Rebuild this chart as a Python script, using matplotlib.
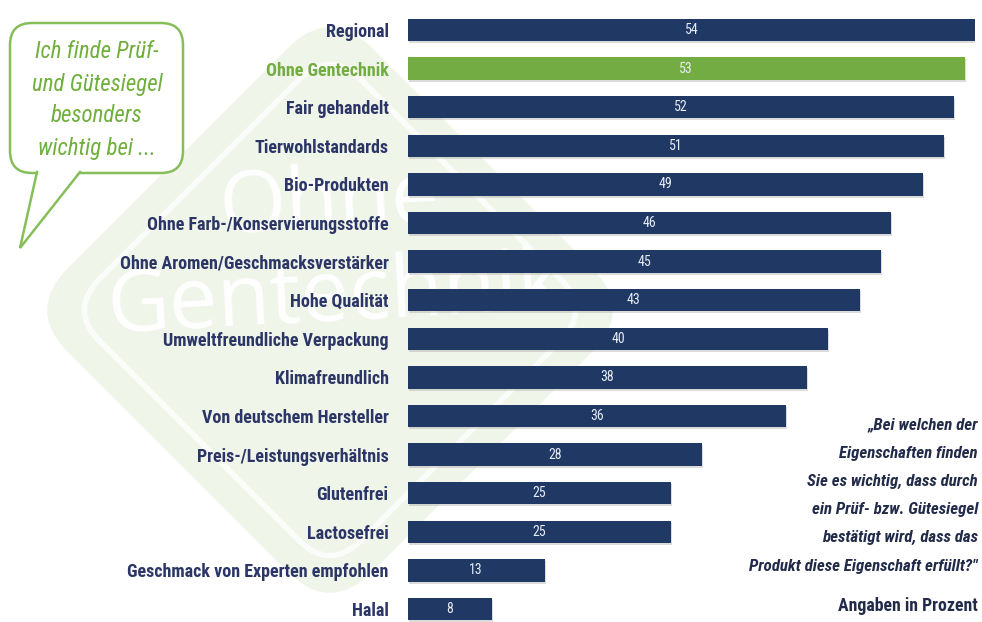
import numpy as np
import matplotlib.pyplot as plt
from matplotlib import font_manager
from matplotlib.patches import FancyBboxPatch, Polygon
from matplotlib.transforms import Affine2D

# Daten
merkmale = ['Regional', 'Ohne Gentechnik', 'Fair gehandelt', 'Tierwohlstandards',
            'Bio-Produkten', 'Ohne Farb-/Konservierungsstoffe',
            'Ohne Aromen/Geschmacksverstärker', 'Hohe Qualität',
            'Umweltfreundliche Verpackung', 'Klimafreundlich',
            'Von deutschem Hersteller', 'Preis-/Leistungsverhältnis',
            'Glutenfrei', 'Lactosefrei', 'Geschmack von Experten empfohlen', 'Halal']
prozent = [54, 53, 52, 51, 49, 46, 45, 43, 40, 38, 36, 28, 25, 25, 13, 8]
hervorgehoben = 'Ohne Gentechnik'

blase_zeilen = ['Ich finde Prüf-', 'und Gütesiegel', 'besonders', 'wichtig bei ...']
frage_zeilen = ['„Bei welchen der', 'Eigenschaften finden', 'Sie es wichtig, dass durch',
                'ein Prüf- bzw. Gütesiegel', 'bestätigt wird, dass das',
                'Produkt diese Eigenschaft erfüllt?"']
fussnote = 'Angaben in Prozent'

navy = '#1f3864'
text_navy = '#2b3566'
gruen = '#72ac43'

# schmale Schrift, falls vorhanden
vorhanden = {f.name for f in font_manager.fontManager.ttflist}
schrift = next((f for f in ['Roboto Condensed', 'Open Sans Condensed', 'Liberation Sans Narrow',
                            'Lato', 'Roboto', 'DejaVu Sans'] if f in vorhanden), 'DejaVu Sans')
plt.rcParams['font.family'] = [schrift, 'DejaVu Sans']

W, H = 982, 622
fig = plt.figure(figsize=(W / 100, H / 100), dpi=100)
fig.patch.set_facecolor('white')

# Hintergrund (Wasserzeichen) in Pixelkoordinaten
bg = fig.add_axes([0, 0, 1, 1], zorder=0)
bg.set_xlim(0, W)
bg.set_ylim(H, 0)
bg.axis('off')
cx, cy, seite = 330, 310, 430
rot = Affine2D().rotate_deg_around(cx, cy, 45) + bg.transData
raute = FancyBboxPatch((cx - seite / 2, cy - seite / 2), seite, seite,
                       boxstyle='round,pad=0,rounding_size=60',
                       facecolor='#f0f5ea', edgecolor='none', transform=rot)
bg.add_patch(raute)
innen = seite - 60
raute2 = FancyBboxPatch((cx - innen / 2, cy - innen / 2), innen, innen,
                        boxstyle='round,pad=0,rounding_size=45',
                        facecolor='none', edgecolor='white', lw=4, alpha=0.8, transform=rot)
bg.add_patch(raute2)
bg.text(330, 205, 'Ohne', color='white', fontsize=62, ha='center', va='center',
        family='Open Sans', rotation=3)
bg.text(335, 298, 'Gentechnik', color='white', fontsize=62, ha='center', va='center',
        family='Open Sans', rotation=3)

# Balkendiagramm
x0, x1 = 408, 975
ax = fig.add_axes([x0 / W, 0, (x1 - x0) / W, 1], zorder=2)
ax.patch.set_alpha(0)
y = np.arange(len(merkmale))
abstand = (609 - 30) / (len(merkmale) - 1)
ax.set_ylim(len(merkmale) - 1 + (H - 609) / abstand, -30 / abstand)
ax.set_xlim(0, max(prozent))
farben = [gruen if m == hervorgehoben else navy for m in merkmale]
# leichter Schatten
ax.barh(y + 0.05, prozent, height=0.58, left=0.12, color='#9a9a9a', alpha=0.35, zorder=1)
ax.barh(y, prozent, height=0.58, color=farben, zorder=2)
for yi, v in zip(y, prozent):
    ax.text(v / 2, yi, str(v), color='#e8ecf4', fontsize=10, ha='center', va='center', zorder=3)
ax.set_yticks(y)
ax.set_yticklabels(merkmale, fontsize=13, fontweight='bold')
for lbl, m in zip(ax.get_yticklabels(), merkmale):
    lbl.set_color(gruen if m == hervorgehoben else text_navy)
ax.tick_params(axis='y', length=0, pad=14)
ax.set_xticks([])
for s in ax.spines.values():
    s.set_visible(False)

# Sprechblase und Texte
ov = fig.add_axes([0, 0, 1, 1], zorder=3)
ov.patch.set_alpha(0)
ov.set_xlim(0, W)
ov.set_ylim(H, 0)
ov.axis('off')
blase = FancyBboxPatch((10, 23), 173, 150, boxstyle='round,pad=0,rounding_size=22',
                       facecolor='white', edgecolor='#86bf5a', lw=1.8)
ov.add_patch(blase)
ov.add_patch(Polygon([(37, 170), (80, 170), (20, 248)], closed=True,
                     facecolor='white', edgecolor='none', zorder=3))
ov.plot([37, 20, 80], [172, 248, 172], color='#86bf5a', lw=1.8, zorder=4,
        solid_joinstyle='miter')
for i, z in enumerate(blase_zeilen):
    ov.text(97, 52 + i * 32, z, color='#6faf3c', fontsize=16.5, style='italic',
            ha='center', va='center')
for i, z in enumerate(frage_zeilen):
    ov.text(978, 425 + i * 28.2, z, color='#222a4a', fontsize=12.2, style='italic',
            ha='right', va='center', fontweight='bold')
ov.text(978, 606, fussnote, color='#222a4a', fontsize=12.8, ha='right', va='center',
        fontweight='bold')

fig.savefig('out.png', dpi=100)
